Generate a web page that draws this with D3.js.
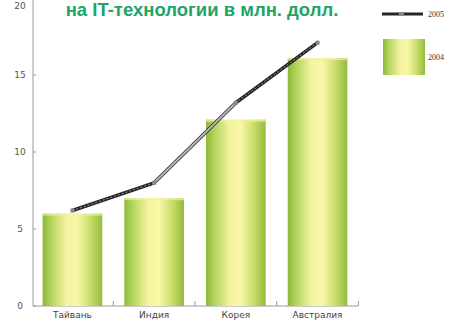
<!DOCTYPE html>
<html>
<head>
<meta charset="utf-8">
<script src="https://cdn.jsdelivr.net/npm/d3@7/dist/d3.min.js"></script>
<style>
  html, body { margin: 0; padding: 0; background: #fff; }
  svg { display: block; }
</style>
</head>
<body>
<svg id="chart" width="462" height="323"></svg>
<script>
// Investment in IT by country, mln USD
const categories = ["Тайвань", "Индия", "Корея", "Австралия"];
const values2004 = [6, 7, 12.1, 16.1];
const values2005 = [6.2, 8, 13.2, 17.1];
const yTicks = [0, 5, 10, 15, 20];
const seriesNames = ["2005", "2004"];
const titleText = "на IT-технологии в млн. долл.";

const svg = d3.select("#chart");

const x = d3.scaleBand().domain(categories).range([32, 358]).paddingInner(0.27).paddingOuter(0.13);
const y = d3.scaleLinear().domain([0, 20]).range([306, -2]);

// Bar gradient: green edges, pale yellow centre
const defs = svg.append("defs");
const grad = defs.append("linearGradient").attr("id", "barGrad")
  .attr("x1", "0%").attr("x2", "100%").attr("y1", "0%").attr("y2", "0%");
[["0%", "#8cb83a"], ["14%", "#b4d45c"], ["40%", "#f4f3a2"], ["58%", "#faf7a6"],
 ["82%", "#c4da66"], ["100%", "#94bb3e"]].forEach(([o, c]) =>
  grad.append("stop").attr("offset", o).attr("stop-color", c));

// Title
svg.append("text")
  .attr("x", 202).attr("y", 16)
  .attr("text-anchor", "middle")
  .attr("font-family", "Liberation Sans, Arial, sans-serif")
  .attr("font-weight", "bold")
  .attr("font-size", 18.5)
  .attr("fill", "#22a466")
  .text(titleText);

// Axes
const axisColor = "#9a9a9a";
svg.append("line").attr("x1", 33).attr("x2", 33).attr("y1", 0).attr("y2", y(0))
  .attr("stroke", axisColor).attr("stroke-width", 1);
svg.append("line").attr("x1", 33).attr("x2", 358).attr("y1", y(0)).attr("y2", y(0))
  .attr("stroke", axisColor).attr("stroke-width", 1);

// y tick labels (kept inside the frame at the top)
const yAxis = d3.axisLeft(y).tickValues(yTicks).tickSize(0).tickPadding(0);
const gy = svg.append("g").attr("transform", "translate(33,0)").call(yAxis);
gy.select(".domain").remove();
gy.selectAll(".tick").attr("transform", d => `translate(0,${Math.max(y(d), 6)})`);
gy.selectAll("text")
  .attr("x", -13).attr("dy", "0.32em")
  .attr("text-anchor", "middle")
  .attr("font-family", "DejaVu Sans, sans-serif")
  .attr("font-size", 9).attr("fill", "#555");
svg.selectAll(".ytick").data(yTicks).join("line")
  .attr("class", "ytick")
  .attr("x1", 33).attr("x2", 36)
  .attr("y1", d => y(d)).attr("y2", d => y(d))
  .attr("stroke", axisColor);

// x category boundary ticks
const step = x.step();
svg.selectAll(".xtick").data(categories).join("line")
  .attr("class", "xtick")
  .attr("x1", d => x(d) + x.bandwidth() + (step - x.bandwidth()) / 2)
  .attr("x2", d => x(d) + x.bandwidth() + (step - x.bandwidth()) / 2)
  .attr("y1", y(0)).attr("y2", y(0) - 5)
  .attr("stroke", axisColor);

// x labels
svg.selectAll(".xlab").data(categories).join("text")
  .attr("class", "xlab")
  .attr("x", d => x(d) + x.bandwidth() / 2)
  .attr("y", 318)
  .attr("text-anchor", "middle")
  .attr("font-family", "DejaVu Sans, sans-serif")
  .attr("font-size", 9).attr("fill", "#444")
  .text(d => d);

// Bars (2004)
svg.selectAll(".bar").data(values2004).join("rect")
  .attr("class", "bar")
  .attr("x", (d, i) => x(categories[i]))
  .attr("width", x.bandwidth())
  .attr("y", d => y(d))
  .attr("height", d => y(0) - y(d))
  .attr("fill", "url(#barGrad)");
svg.selectAll(".bartop").data(values2004).join("rect")
  .attr("class", "bartop")
  .attr("x", (d, i) => x(categories[i]))
  .attr("width", x.bandwidth())
  .attr("y", d => y(d))
  .attr("height", 2)
  .attr("fill", "#eef2a8").attr("opacity", 0.7);

// Line (2005)
const pts = values2005.map((v, i) => [x(categories[i]) + x.bandwidth() / 2, y(v)]);
const line = d3.line();
svg.append("path").attr("d", line(pts))
  .attr("fill", "none").attr("stroke", "#262626").attr("stroke-width", 3.5)
  .attr("stroke-linejoin", "round").attr("stroke-linecap", "round");
svg.append("path").attr("d", line(pts))
  .attr("fill", "none").attr("stroke", "#9a9a9a").attr("stroke-width", 1)
  .attr("stroke-dasharray", "2,2");
// lighter middle segment
svg.append("path").attr("d", line(pts.slice(1, 3)))
  .attr("fill", "none").attr("stroke", "#b8b8b8").attr("stroke-width", 2);
svg.selectAll(".mk").data(pts).join("rect")
  .attr("class", "mk")
  .attr("x", d => d[0] - 2).attr("y", d => d[1] - 2)
  .attr("width", 4).attr("height", 4)
  .attr("fill", "#8a8a8a");

// Legend
const lg = svg.append("g");
lg.append("line").attr("x1", 382).attr("x2", 423).attr("y1", 14).attr("y2", 14)
  .attr("stroke", "#262626").attr("stroke-width", 3);
lg.append("rect").attr("x", 399).attr("y", 12).attr("width", 5).attr("height", 4).attr("fill", "#8a8a8a");
lg.append("text").attr("x", 428).attr("y", 17)
  .attr("font-family", "Liberation Serif, serif").attr("font-size", 8).attr("fill", "#333")
  .text(seriesNames[0]);
lg.append("rect").attr("x", 383).attr("y", 39).attr("width", 42).attr("height", 36)
  .attr("fill", "url(#barGrad)");
lg.append("text").attr("x", 428).attr("y", 60)
  .attr("font-family", "Liberation Serif, serif").attr("font-size", 8).attr("fill", "#333")
  .text(seriesNames[1]);
</script>
</body>
</html>
